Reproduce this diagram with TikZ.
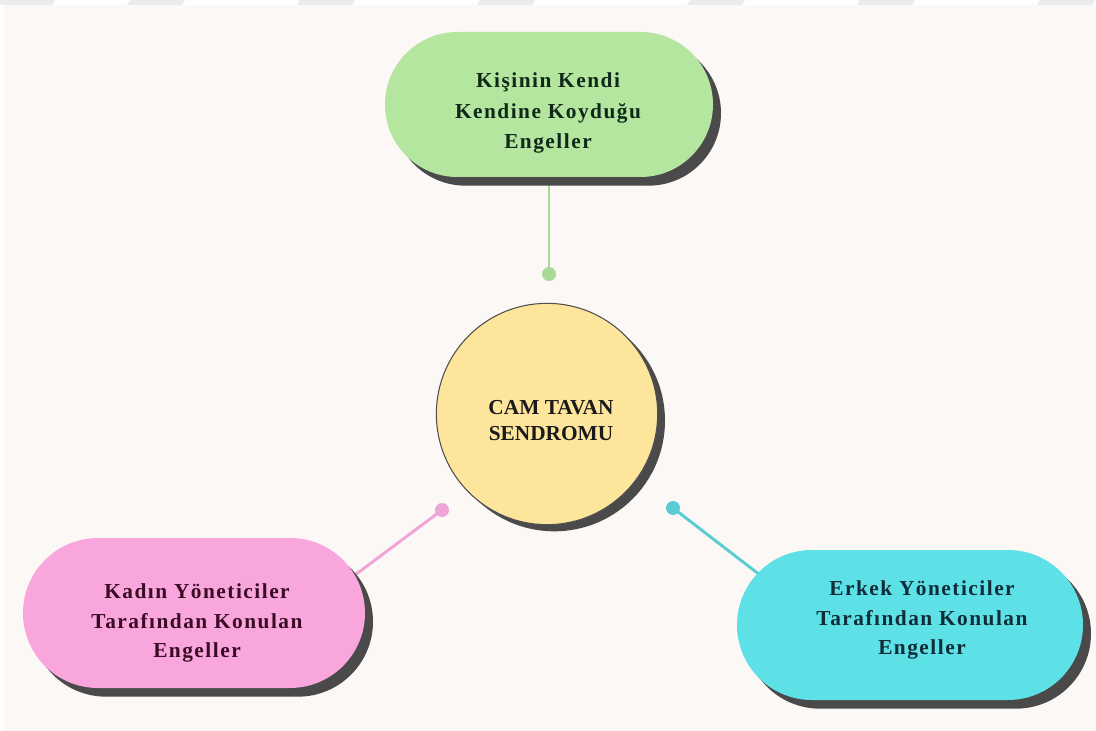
\documentclass[tikz,border=0pt]{standalone}
\usepackage{fontspec}
\setmainfont{Liberation Serif}
\newfontfamily\spacedfont[LetterSpace=7]{Liberation Serif}
\usetikzlibrary{shapes.misc,shadows,backgrounds}
\definecolor{bgcol}{HTML}{FBF8F6}
\definecolor{stripecol}{HTML}{ECECEC}
\definecolor{shadowcol}{HTML}{4A4A4A}
\definecolor{greenfill}{HTML}{B4E6A0}
\definecolor{pinkfill}{HTML}{F9A6DC}
\definecolor{cyanfill}{HTML}{5DE0E6}
\definecolor{yellowfill}{HTML}{FDE59C}
\definecolor{circedge}{HTML}{505050}
\definecolor{greenline}{HTML}{A8DA98}
\definecolor{pinkline}{HTML}{EFA5D6}
\definecolor{cyanline}{HTML}{5CCCD3}
\definecolor{greentext}{HTML}{10281A}
\definecolor{pinktext}{HTML}{3A0C24}
\definecolor{cyantext}{HTML}{0F2C38}
\definecolor{coretext}{HTML}{1A1A1A}
\begin{document}
\begin{tikzpicture}[x=0.75pt,y=-0.75pt,
  pill/.style={rounded rectangle, inner sep=0pt, outer sep=0pt,
    general shadow={fill=shadowcol, shadow xshift=6pt, shadow yshift=-6.5pt}},
  dotnode/.style={circle, inner sep=0pt, outer sep=0pt, minimum size=10.5pt},
  link/.style={line width=2.2pt},
  lbl/.style={align=center, font=\spacedfont\bfseries\fontsize{16}{22}\selectfont},
  corefont/.style={align=center, font=\bfseries\fontsize{16}{19.5}\selectfont}]
\useasboundingbox (0,0) rectangle (1096,731);
\begin{scope}[on background layer]
  \fill[white] (0,0) rectangle (1096,731);
  \foreach \a in {0,130,300,480,690,860,1040}
    \fill[stripecol] (\a,0) -- (\a+55,0) -- (\a+52,5) -- (\a-3,5) -- cycle;
  \fill[bgcol] (4,5) rectangle (1096,731);
\end{scope}

% pills
\node[pill, fill=greenfill, minimum width=246pt, minimum height=108.75pt] (green) at (549,104.5) {};
\node[lbl, text=greentext, font=\spacedfont\bfseries\fontsize{16}{23}\selectfont] (greenlbl) at (548,113) {Kişinin Kendi\\Kendine Koyduğu\\Engeller};

\node[pill, fill=pinkfill, minimum width=256.5pt, minimum height=112.5pt] (pink) at (194,613) {};
\node[lbl, text=pinktext] (pinklbl) at (197,623) {Kadın Yöneticiler\\Tarafından Konulan\\Engeller};

\node[pill, fill=cyanfill, minimum width=259.5pt, minimum height=112.5pt] (cyan) at (910,625) {};
\node[lbl, text=cyantext] (cyanlbl) at (922,620) {Erkek Yöneticiler\\Tarafından Konulan\\Engeller};

% core circle
\node[circle, draw=circedge, line width=0.8pt, fill=yellowfill, minimum size=166pt, inner sep=0pt,
  general shadow={fill=shadowcol, shadow xshift=5.5pt, shadow yshift=-5pt}] (core) at (547,414) {};
\node[corefont, text=coretext] (corelbl) at (551,421) {CAM TAVAN\\SENDROMU};

% dots
\node[dotnode, fill=greenline] (gdot) at (549,274) {};
\node[dotnode, fill=pinkline] (pdot) at (442,510) {};
\node[dotnode, fill=cyanline] (cdot) at (673,508) {};
\coordinate (pend) at (355,575);
\coordinate (cend) at (760,575);

\begin{scope}[on background layer]
  \draw[link, draw=greenline] (green.south) -- (gdot.center);
  \draw[link, draw=pinkline] (pdot.center) -- (pend);
  \draw[link, draw=cyanline] (cdot.center) -- (cend);
\end{scope}
\end{tikzpicture}
\end{document}
